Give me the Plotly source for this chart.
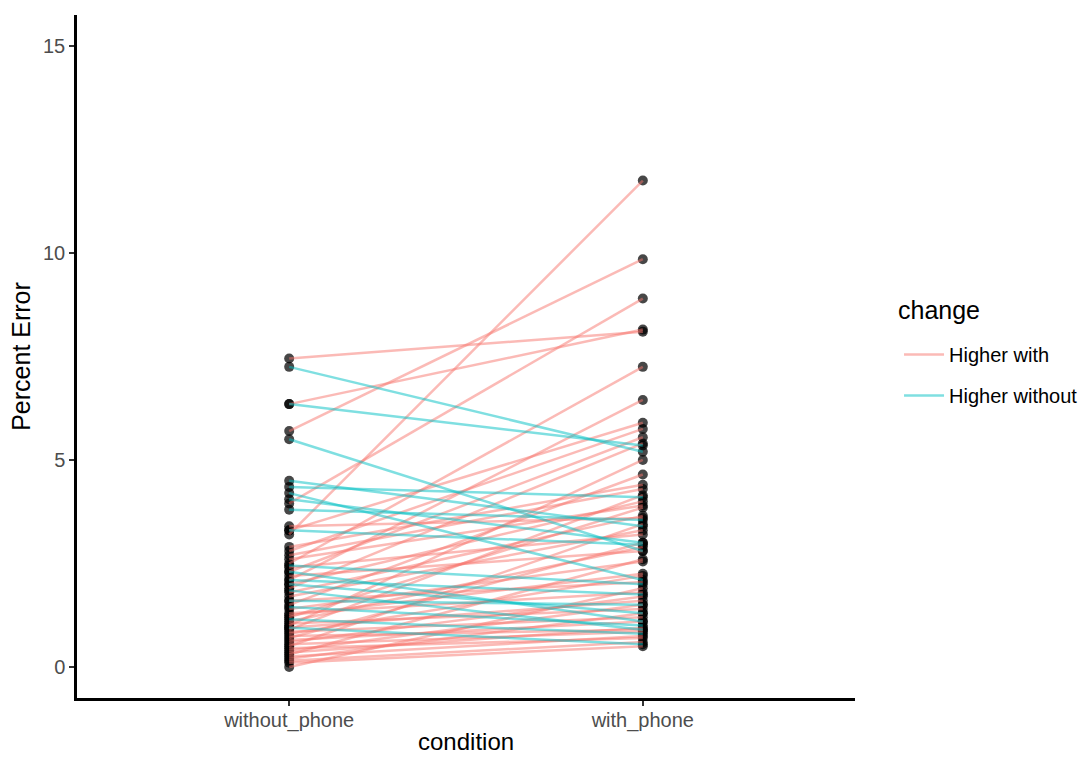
import plotly.graph_objects as go

conditions = ["without_phone", "with_phone"]

# Higher with (with_phone > without_phone)
hw_without = [7.45, 6.35, 5.7, 3.95, 3.2, 2.5, 2.1, 3.3, 2.8, 2.3, 1.9, 1.0, 1.5, 2.7, 0.9, 2.0,
              1.2, 3.4, 0.5, 1.7, 2.4, 0.7, 1.1, 2.2, 0.3, 1.4, 0.8, 1.6, 0.0, 1.3, 0.6, 0.95,
              0.4, 1.05, 0.2, 0.85, 0.65, 0.35, 0.55, 0.25, 0.45, 0.15, 0.75, 2.9, 1.8, 2.6, 1.25, 0.1]
hw_with = [8.1, 8.15, 9.85, 8.9, 11.75, 7.25, 6.45, 5.9, 5.75, 5.55, 5.4, 5.0, 4.65, 4.3, 4.15, 4.0,
           3.85, 3.6, 3.45, 3.3, 3.2, 3.0, 2.9, 2.8, 2.6, 2.55, 2.2, 2.05, 1.9, 1.8, 1.7, 1.6,
           1.5, 1.4, 1.3, 1.2, 1.1, 0.95, 0.85, 0.75, 0.7, 0.6, 0.9, 4.4, 3.65, 3.9, 2.25, 0.5]

# Higher without (without_phone > with_phone)
hwo_without = [7.25, 6.35, 5.5, 4.5, 4.35, 4.2, 4.05, 3.8, 2.45, 2.3, 2.1, 1.85, 1.6, 1.45, 1.15, 0.95, 3.3, 2.0]
hwo_with = [5.2, 5.35, 2.8, 3.4, 4.1, 2.1, 3.0, 3.55, 2.0, 1.1, 1.75, 0.9, 1.5, 1.0, 0.8, 0.55, 2.95, 1.3]

RED = "rgba(248,118,109,0.5)"
TEAL = "rgba(0,191,196,0.5)"


def seg(a, b):
    xs, ys = [], []
    for u, v in zip(a, b):
        xs += [conditions[0], conditions[1], None]
        ys += [u, v, None]
    return xs, ys


fig = go.Figure()

all_x = [conditions[0]] * (len(hw_without) + len(hwo_without)) + [conditions[1]] * (len(hw_with) + len(hwo_with))
all_y = hw_without + hwo_without + hw_with + hwo_with
fig.add_trace(go.Scatter(x=all_x, y=all_y, mode="markers",
                         marker=dict(color="rgba(0,0,0,0.72)", size=10, line=dict(width=0)),
                         showlegend=False, hoverinfo="skip"))

x1, y1 = seg(hw_without, hw_with)
fig.add_trace(go.Scatter(x=x1, y=y1, mode="lines", name="Higher with", legendgroup="a",
                         line=dict(color=RED, width=2.5), connectgaps=False))
x2, y2 = seg(hwo_without, hwo_with)
fig.add_trace(go.Scatter(x=x2, y=y2, mode="lines", name="Higher without", legendgroup="b",
                         line=dict(color=TEAL, width=2.5), connectgaps=False))

fig.update_layout(
    width=1091, height=757,
    margin=dict(l=77, r=236, t=15, b=59, autoexpand=False),
    plot_bgcolor="white", paper_bgcolor="white",
    font=dict(family="Liberation Sans, Arial, sans-serif", color="black"),
    legend=dict(font=dict(size=20, color="black"),
                x=1.0566, y=0.473, xanchor="left", yanchor="middle",
                itemwidth=40,
                bgcolor="rgba(0,0,0,0)", tracegroupgap=12),
    xaxis=dict(type="category", categoryorder="array", categoryarray=conditions,
               range=[-0.6, 1.6], automargin=False,
               showline=True, linecolor="black", linewidth=2.5,
               ticks="outside", ticklen=5, tickwidth=1.5, tickcolor="#333333",
               tickfont=dict(size=20, color="#4D4D4D"), ticklabelstandoff=-3,
               showgrid=False, zeroline=False),
    yaxis=dict(range=[-0.75, 15.75], tickvals=[0, 5, 10, 15], automargin=False,
               showline=True, linecolor="black", linewidth=2.5,
               ticks="outside", ticklen=5, tickwidth=1.5, tickcolor="#333333",
               tickfont=dict(size=20, color="#4D4D4D"),
               showgrid=False, zeroline=False,
               title=dict(text="Percent Error", font=dict(size=25, color="black"), standoff=6)),
    annotations=[
        dict(text="change", x=1.0527, y=0.568, xref="paper", yref="paper",
             xanchor="left", yanchor="middle", showarrow=False,
             font=dict(size=25, color="black")),
        dict(text="condition", x=0.5, y=-0.063, xref="paper", yref="paper",
             xanchor="center", yanchor="middle", showarrow=False, borderpad=0,
             font=dict(size=24, color="black")),
    ],
)

fig.write_html("out.html")
